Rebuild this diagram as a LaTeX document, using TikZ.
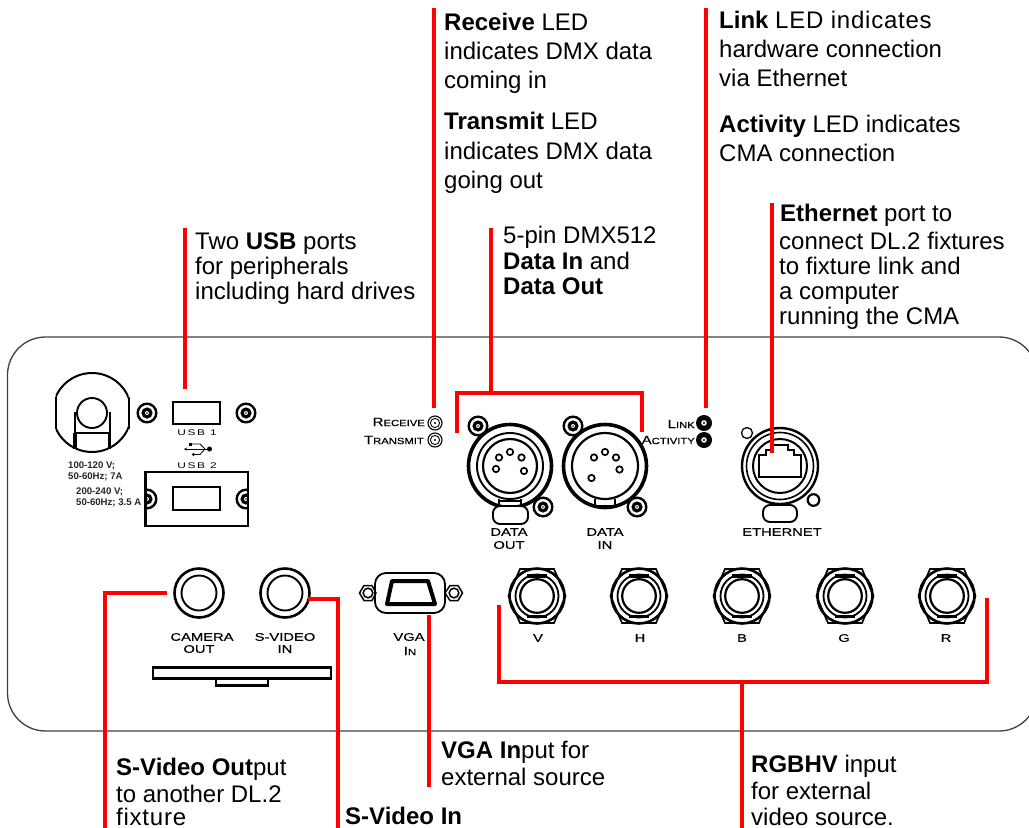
\documentclass[tikz,border=0pt]{standalone}
\usepackage{fontspec}
\usepackage{graphicx}
\usetikzlibrary{arrows.meta}
\setmainfont{Liberation Sans}
\newfontfamily\labfont[FakeBold=0.35]{Liberation Sans}
\newfontfamily\usbfont[LetterSpace=14]{Liberation Sans}
\newfontfamily\spacedfont[LetterSpace=3.2]{Liberation Sans}
\newcommand{\lab}[1]{\scalebox{1.34}[1]{\labfont\fontsize{11}{11}\selectfont #1}}
\newcommand{\smalllab}[1]{\scalebox{1.45}[1]{\usbfont\fontsize{8.2}{8.2}\selectfont #1}}
\newcommand{\sclab}[2]{\scalebox{1.25}[1]{\labfont\fontsize{12}{12}\selectfont #1\fontsize{9}{9}\selectfont #2}}
\tikzset{
  x=1pt,y=-1pt,
  redline/.style={draw=red,line width=4pt,line cap=butt,line join=miter},
  note/.style={anchor=base west,inner sep=0pt,font=\fontsize{24}{24}\selectfont},
  tiny/.style={anchor=base west,inner sep=0pt,font=\bfseries\fontsize{9.6}{9.6}\selectfont,text=black!85},
  tag/.style={inner sep=0pt,text=black},
  ink/.style={draw=black,line width=1.9pt,fill=none},
  thickink/.style={draw=black,line width=3pt,fill=none},
}
\newcommand{\screw}[1]{%
  \draw[draw=black,line width=2.4pt] (#1) circle (9.3);
  \fill[black] (#1) circle (5.6);
  \fill[white] (#1) circle (2);
  \fill[black] (#1) circle (.8);}
\newcommand{\ledring}[1]{%
  \draw[black,line width=1.1pt] (#1) circle (7);
  \draw[black,line width=.9pt] (#1) circle (4.6);
  \fill[black] (#1) circle (1.2);}
\newcommand{\leddark}[1]{%
  \fill[black] (#1) circle (8);
  \fill[white] (#1) circle (2.8);
  \fill[black] (#1) circle (1.1);}
\newcommand{\pin}[1]{\draw[black,line width=1.7pt] (#1) circle (3.2);}
\newcommand{\bnc}[1]{%
  \begin{scope}[shift={(#1)}]
    \draw[black,line width=2.6pt] (0,0) circle (27.5);
    \draw[black,line width=1.7pt] (-28.5,0)--(-17,-27)--(17,-27)--(28.5,0)--(17,27)--(-17,27)--cycle;
    \draw[black,line width=1.8pt] (0,0) circle (21.5);
    \draw[black,line width=2.2pt] (0,0) circle (16.8);
    \fill[black] (-10,-22) rectangle (10,-18.5);
    \fill[black] (-10,18.5) rectangle (10,22);
  \end{scope}}
\begin{document}
\begin{tikzpicture}
\useasboundingbox (0,0) rectangle (1029,828);
\fill[white] (0,0) rectangle (1029,828);
% panel
\begin{scope}
\clip (0,0) rectangle (1029,828);
\draw[black!75,line width=1.3pt,rounded corners=38pt] (7.5,337) rectangle (1037,731);
\end{scope}
% power
\begin{scope}
\clip (55.5,370) rectangle (128.5,456);
\draw[draw=black,line width=2pt] (92,412.5) circle (39.5);
\end{scope}
\draw[black,line width=2pt] (55.5,396.5) -- (55.5,428.5) (128.5,396.5) -- (128.5,428.5);
\draw[black,line width=2pt] (74.5,433) -- (74.5,412) (110,412) -- (110,433);
\draw[black,line width=3.6pt] (75,433) -- (75,449) (109.5,433) -- (109.5,449);
\draw[ink] (74,433) -- (110.5,433);
\draw[ink,fill=white] (92,413) circle (15);
\node[tiny] (t1) at (68,468) {100-120 V;};
\node[tiny] (t2) at (68,479.5) {50-60Hz; 7A};
\node[tiny] (t3) at (76,494) {200-240 V;};
\node[tiny] (t4) at (76,505.5) {50-60Hz; 3.5 A};
\screw{147,413}\screw{246,413}
\draw[ink] (173,402) rectangle (220,424);
\node[tag] (usb1) at (197,433) {\smalllab{USB 1}};
% usb symbol
\draw[black,line width=.8pt,-{Stealth[length=3pt,width=3pt]}] (208,449) -- (184,449);
\fill[black] (209.5,449) circle (2.5);
\draw[black,line width=.8pt] (190,444) -- (200,444) -- (205,449);
\draw[black,line width=.8pt] (194,454.5) -- (200,454.5) -- (205,449);
\fill[black] (188.5,442.5) rectangle (191.5,445.5);
\fill[black] (193.5,454.5) circle (1.6);
\node[tag] (usb2) at (197,466) {\smalllab{USB 2}};
\begin{scope}
\clip (145,472) rectangle (248,526);
\screw{147,499}\screw{246,499}
\end{scope}
\draw[ink,line width=2.2pt] (145.5,472) rectangle (248,526);
\draw[ink,line width=2.2pt] (173,487) rectangle (220,510);
% LEDs
\ledring{435,423}\ledring{435,440}
\node[tag,anchor=east] (rcv) at (425,422) {\sclab{R}{ECEIVE}};
\node[tag,anchor=east] (trm) at (424,440) {\sclab{T}{RANSMIT}};
% data out
\draw[thickink,line width=3.6pt] (510,466) circle (41.5);
\draw[ink] (510,466) circle (33);
\draw[ink,line width=2.2pt] (510,466) circle (27);
\screw{478,426}\screw{543,507}
\draw[ink,fill=white,rounded corners=7pt] (493,506) rectangle (528,524);
\draw[ink] (499,506) -- (499,499) (521,506) -- (521,499);
\draw[black,line width=2pt] (499,501) -- (521,501);
\pin{499,457.5}\pin{510,452}\pin{521.5,457.5}\pin{496,469}\pin{524,471}
\node[tag] (dout1) at (509,532) {\lab{DATA}};
\node[tag] (dout2) at (509,545) {\lab{OUT}};
% data in
\draw[thickink,line width=3.6pt] (605,466) circle (41.5);
\draw[ink,line width=2.2pt] (605,466) circle (33);
\screw{573,426}\screw{637,507}
\draw[ink] (595,499) -- (595,506) (615,499) -- (615,506);
\draw[ink] (595,505.5) -- (615,505.5);
\pin{594,457.5}\pin{605,452}\pin{616,457.5}\pin{619.5,469.5}\pin{591.5,478}
\node[tag] (din1) at (605,532) {\lab{DATA}};
\node[tag] (din2) at (605,545) {\lab{IN}};
% link leds
\leddark{704,423}\leddark{704,440}
\node[tag,anchor=east] (lnk) at (695,424) {\sclab{L}{INK}};
\node[tag,anchor=east] (act) at (695,440) {\sclab{A}{CTIVITY}};
% ethernet
\draw[thickink,line width=2.4pt] (780,466) circle (38);
\draw[ink,line width=1.6pt] (780,466) circle (33.5);
\draw[ink,line width=2pt] (780,466) circle (27);
\draw[ink,line width=1.3pt] (747,433) circle (5.5);
\draw[ink,line width=2.2pt] (813.5,500) circle (5.8);
\draw[ink,line width=1.7pt] (759,477) -- (759,455) -- (766,455) -- (766,450) -- (772,450) -- (772,445) -- (788,445) -- (788,450) -- (794,450) -- (794,455) -- (801,455) -- (801,477) -- cycle;
\draw[ink,fill=white,rounded corners=7pt] (763,505) rectangle (797,522);
\node[tag] (eth) at (782,532) {\lab{ETHERNET}};
% camera, s-video
\draw[ink,line width=2.6pt] (199,593) circle (24.5);
\draw[ink] (199,593) circle (17.5);
\draw[ink,line width=2.6pt] (285,593) circle (24.5);
\draw[ink] (285,593) circle (17.5);
\node[tag] (cam1) at (202,637) {\lab{CAMERA}};
\node[tag] (cam2) at (199,649) {\lab{OUT}};
\node[tag] (sv1) at (285,637) {\lab{S-VIDEO}};
\node[tag] (sv2) at (285,649) {\lab{IN}};
% bar
\draw[ink,line width=2.6pt] (153,667.5) rectangle (331,678.5);
\fill[black] (215,665.5) rectangle (268,668.5);
\draw[ink,line width=2.4pt] (216,678.5) rectangle (268,685.5);
% vga
\draw[ink,rounded corners=11pt,line width=1.8pt] (375,573) rectangle (445,613);
\draw[black,line width=4pt,line join=round] (392,581) -- (428,581) -- (435,604) -- (387,604) -- cycle;
\draw[ink,line width=1.5pt] (359.5,593) -- (364,585.5) -- (372,585.5) -- (376,593) -- (372,600.5) -- (364,600.5) -- cycle;
\draw[ink,line width=1.5pt] (368,593) circle (4.8);
\draw[ink,line width=1.5pt] (445,593) -- (450,585.5) -- (458,585.5) -- (462.5,593) -- (458,600.5) -- (450,600.5) -- cycle;
\draw[ink,line width=1.5pt] (454,593) circle (4.8);
\node[tag] (vga1) at (409,637) {\lab{VGA}};
\node[tag] (vga2) at (410,651) {\sclab{I}{N}};
% BNC
\bnc{537,596}\bnc{639,596}\bnc{742,596}\bnc{845,596}\bnc{947,596}
\node[tag] (lv) at (538,638) {\lab{V}};
\node[tag] (lh) at (640,638) {\lab{H}};
\node[tag] (lb) at (742,638) {\lab{B}};
\node[tag] (lg) at (844,638) {\lab{G}};
\node[tag] (lr) at (946,638) {\lab{R}};
% notes
\node[note] (n1a) at (195,249) {Two \textbf{USB} ports};
\node[note] (n1b) at (195,274) {for peripherals};
\node[note] (n1c) at (195,299) {including hard drives};
\node[note] (n2a) at (444,30) {\textbf{Receive} LED};
\node[note] (n2b) at (444,59) {indicates DMX data};
\node[note] (n2c) at (444,88) {coming in};
\node[note] (n2d) at (444,129) {\textbf{Transmit} LED};
\node[note] (n2e) at (444,159) {indicates DMX data};
\node[note] (n2f) at (444,188) {going out};
\node[note] (n3a) at (503,243) {5-pin DMX512};
\node[note] (n3b) at (503,269) {\textbf{Data In} and};
\node[note] (n3c) at (503,294) {\textbf{Data Out}};
\node[note] (n4a) at (719,28) {\textbf{Link} {\spacedfont LED indicates}};
\node[note] (n4b) at (719,57) {hardware connection};
\node[note] (n4c) at (719,86) {via Ethernet};
\node[note] (n4d) at (719,132) {\textbf{Activity} LED indicates};
\node[note] (n4e) at (719,161) {CMA connection};
\node[note] (n5a) at (780,221) {\textbf{Ethernet} port to};
\node[note] (n5b) at (779,249) {connect DL.2 fixtures};
\node[note] (n5c) at (779,274) {to fixture link and};
\node[note] (n5d) at (779,299) {a computer};
\node[note] (n5e) at (779,324) {running the CMA};
\node[note] (n6a) at (116,775) {\textbf{S-Video Out}put};
\node[note] (n6b) at (116,802) {to another DL.2};
\node[note] (n6c) at (116,825) {{\spacedfont fixture}};
\node[note] (n7) at (345,824) {\textbf{S-Video In}};
\node[note] (n8a) at (441,758) {\textbf{VGA In}put for};
\node[note] (n8b) at (441,785) {external source};
\node[note] (n9a) at (751,772) {\textbf{RGBHV} input};
\node[note] (n9b) at (751,799) {for external};
\node[note] (n9c) at (751,825) {video source.};
% leader anchors
\coordinate (usbT) at (185,228); \coordinate (usbB) at (185,389);
\coordinate (rxT) at (434,8); \coordinate (rxB) at (434,408);
\coordinate (dT) at (491,228); \coordinate (dJ) at (491,392.5);
\coordinate (dL) at (457,433); \coordinate (dLt) at (457,392.5);
\coordinate (dR) at (642,432); \coordinate (dRt) at (642,392.5);
\coordinate (lkT) at (706,8); \coordinate (lkB) at (706,408);
\coordinate (etT) at (772,203); \coordinate (etB) at (772,453);
\coordinate (camE) at (167,593); \coordinate (camC) at (105,593); \coordinate (camB) at (105,828);
\coordinate (svE) at (308,599); \coordinate (svC) at (338,599); \coordinate (svB) at (338,828);
\coordinate (vT) at (429,615); \coordinate (vB) at (429,787);
\coordinate (rL) at (499,605); \coordinate (rLb) at (499,682); \coordinate (rRb) at (987,682); \coordinate (rR) at (987,598);
\coordinate (rJ) at (742,682); \coordinate (rB) at (742,828);
\draw[redline] (usbT) -- (usbB);
\draw[redline] (rxT) -- (rxB);
\draw[redline] (dT) -- (dJ);
\draw[redline] (dL) -- (dLt) -- (dRt) -- (dR);
\draw[redline] (lkT) -- (lkB);
\draw[redline] (etT) -- (etB);
\draw[redline] (camE) -- (camC) -- (camB);
\draw[redline] (svE) -- (svC) -- (svB);
\draw[redline] (vT) -- (vB);
\draw[redline] (rL) -- (rLb) -- (rRb) -- (rR);
\draw[redline] (rJ) -- (rB);
\end{tikzpicture}
\end{document}
